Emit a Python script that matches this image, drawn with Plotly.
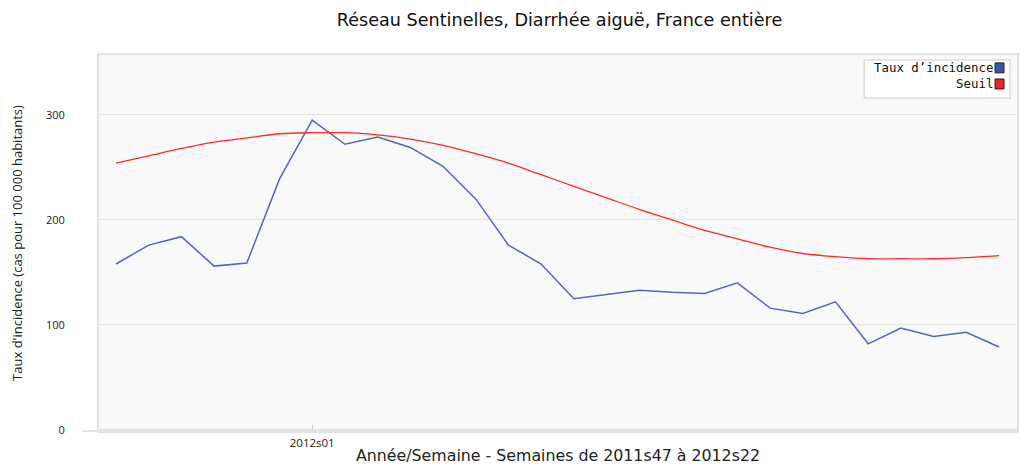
import plotly.graph_objects as go

weeks = ["2011s47", "2011s48", "2011s49", "2011s50", "2011s51", "2011s52",
         "2012s01", "2012s02", "2012s03", "2012s04", "2012s05", "2012s06",
         "2012s07", "2012s08", "2012s09", "2012s10", "2012s11", "2012s12",
         "2012s13", "2012s14", "2012s15", "2012s16", "2012s17", "2012s18",
         "2012s19", "2012s20", "2012s21", "2012s22"]
incidence = [158, 176, 184, 156, 159, 239, 295, 272, 279, 269, 251, 220,
             176, 158, 125, 129, 133, 131, 130, 140, 116, 111, 122, 82,
             97, 89, 93, 79]
seuil = [254, 261, 268, 274, 278, 282, 283, 283, 281, 277, 271, 263,
         254, 243, 232, 221, 210, 200, 190, 182, 174, 168, 165, 163,
         163, 163, 164, 166]
y_ticks = [0, 100, 200, 300]
x_tick_labels = ["2012s01"]
series_names = ["Taux d’incidence", "Seuil"]
swatch_colors = ["#3a55a5", "#ee2222"]

W, H = 1021, 465
L, R, T, B = 99, 2, 55, 33
pw, ph = W - L - R, H - T - B

def px(x):
    return (x - L) / pw

def py(y):
    return (H - B - y) / ph

fig = go.Figure()
fig.add_trace(go.Scatter(x=list(range(len(weeks))), y=incidence, mode="lines",
                         line=dict(color="#5565b5", width=1.5),
                         name=series_names[0], showlegend=False,
                         customdata=weeks))
fig.add_trace(go.Scatter(x=list(range(len(weeks))), y=seuil, mode="lines",
                         line=dict(color="#ff2a2a", width=1.3, shape="spline",
                                   smoothing=0.8),
                         name=series_names[1], showlegend=False, customdata=weeks))

tickvals = [weeks.index(t) for t in x_tick_labels]

fig.update_layout(
    width=W, height=H,
    margin=dict(l=L, r=R, t=T, b=B),
    paper_bgcolor="white",
    plot_bgcolor="#f9f9f9",
    font=dict(family="Open Sans, DejaVu Sans, sans-serif", color="#222"),
    title=dict(text="Réseau Sentinelles, Diarrhée aiguë, France entière",
               x=0.548, xanchor="center", y=0.957, yanchor="middle",
               font=dict(family="DejaVu Sans", size=17.6, color="#111")),
    xaxis=dict(range=[-0.52, 27.55], tickvals=tickvals, ticktext=x_tick_labels,
               showgrid=False, zeroline=False, showline=True, mirror=True,
               linecolor="#e2e2e2", linewidth=2, ticks="inside", ticklen=6,
               tickcolor="#cccccc", tickfont=dict(size=11.5, color="#222"),
               title=dict(text="Année/Semaine - Semaines de 2011s47 à 2012s22",
                          font=dict(family="DejaVu Sans", size=15.8, color="#222"),
                          standoff=2)),
    yaxis=dict(range=[-1, 357], tickvals=y_ticks,
               showgrid=True, gridcolor="#e2e2e2", gridwidth=1, zeroline=False,
               showline=True, mirror=True, linecolor="#e2e2e2", linewidth=2,
               ticks="", tickfont=dict(size=11, color="#222"),
               ticklabelstandoff=30,
               title=dict(text="Taux d'incidence (cas pour 100 000 habitants)",
                          font=dict(size=13, color="#222"), standoff=20)),
)

# bottom axis line extending to the left
fig.add_shape(type="line", xref="paper", yref="paper", x0=px(83), x1=1, y0=0, y1=0,
              line=dict(color="#e2e2e2", width=2))

# custom legend (text right-aligned, swatch on the right)
fs = 12.4
fig.add_shape(type="rect", xref="paper", yref="paper",
              x0=px(866), x1=px(1012), y0=py(98), y1=py(60),
              fillcolor="white", line=dict(color="#dddddd", width=1.5))
fig.add_annotation(xref="paper", yref="paper", x=px(996.5), y=py(76),
                   xanchor="right", yanchor="middle", showarrow=False, align="right",
                   text="<br>".join(series_names),
                   font=dict(family="DejaVu Sans Mono, monospace", size=fs, color="#111"))
line_h = 1.3 * fs
for i, col in enumerate(swatch_colors):
    yy = 76 + (i - 0.5) * line_h
    fig.add_shape(type="rect", xref="paper", yref="paper",
                  x0=px(997), x1=px(1006), y0=py(yy + 5), y1=py(yy - 5),
                  fillcolor=col, line=dict(color="#222", width=1))

fig.write_html("out.html", config={"displayModeBar": False},
               post_script="document.body.style.margin='0px';document.body.style.overflow='hidden';")
